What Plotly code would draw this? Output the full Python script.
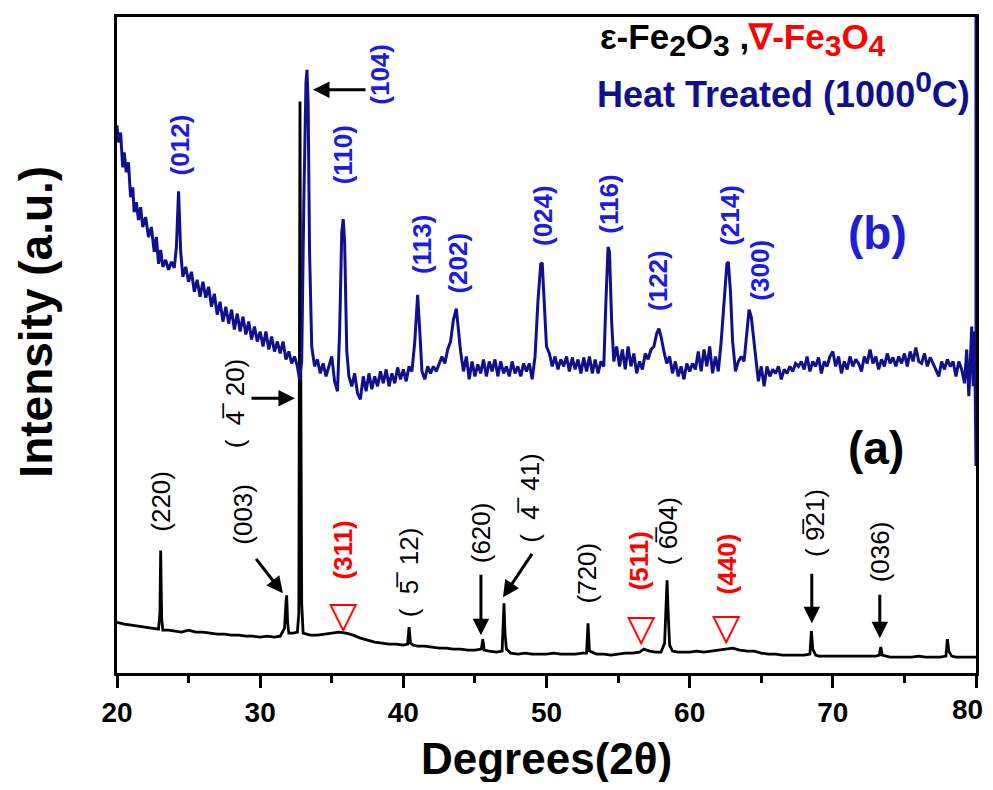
import plotly.graph_objects as go

# ---------------- data ----------------
# (a) as-prepared sample, black trace: 2theta (deg) and intensity (a.u.)
a_x = [20.0, 20.5, 21.0, 21.5, 22.0, 22.5, 22.9, 23.0, 23.05, 23.12, 23.2, 23.6, 24.0, 24.5, 25.0, 25.5,
       26.0, 26.5, 27.0, 27.5, 28.0, 28.5, 29.0, 29.5, 30.0, 30.5, 31.0, 31.4, 31.7, 31.8, 31.85, 31.92,
       32.0, 32.3, 32.6, 32.7, 32.75, 32.78, 32.83, 32.9, 33.0, 33.5, 34.0, 34.5, 35.0, 35.5, 36.0, 36.5,
       37.0, 37.5, 38.0, 38.5, 39.0, 39.5, 40.0, 40.3, 40.4, 40.5, 40.7, 41.0, 41.5, 42.0, 42.5, 43.0,
       43.5, 44.0, 44.5, 45.0, 45.45, 45.55, 45.65, 46.0, 46.5, 46.9, 46.98, 47.03, 47.1, 47.2, 47.5, 48.0,
       48.5, 49.0, 49.5, 50.0, 50.5, 51.0, 51.5, 52.0, 52.5, 52.8, 52.9, 53.0, 53.5, 54.0, 54.5, 55.0,
       55.5, 56.0, 56.5, 56.8, 57.2, 57.6, 58.0, 58.25, 58.35, 58.42, 58.5, 58.6, 58.8, 59.2, 59.6, 60.0,
       60.5, 61.0, 61.5, 62.0, 62.5, 63.0, 63.5, 64.0, 64.5, 65.0, 65.5, 66.0, 66.5, 67.0, 67.5, 68.0,
       68.4, 68.5, 68.6, 68.8, 69.0, 69.5, 70.0, 70.5, 71.0, 71.5, 72.0, 72.5, 73.0, 73.25, 73.35, 73.45,
       73.7, 74.0, 74.5, 75.0, 75.5, 76.0, 76.5, 77.0, 77.5, 77.9, 78.0, 78.1, 78.3, 78.6, 79.0, 79.5, 80.0]
a_y = [51, 49, 48, 47, 46, 45, 44, 60, 123, 55, 43, 43, 42, 41, 43, 41,
       41, 40, 39, 39, 38, 38, 37, 37, 36, 37, 36, 37, 45, 70, 78, 50,
       40, 40, 41, 60, 300, 574, 330, 70, 40, 38, 38, 39, 40, 41, 40, 38,
       35, 33, 31, 30, 29, 29, 28, 29, 46, 30, 28, 27, 27, 26, 25, 25,
       24, 24, 23, 23, 24, 34, 23, 22, 21, 22, 45, 70, 40, 24, 20, 19,
       20, 19, 19, 19, 20, 19, 19, 19, 20, 20, 50, 22, 19, 19, 18, 19,
       20, 20, 21, 24, 22, 21, 21, 30, 75, 93, 60, 28, 22, 21, 21, 21,
       22, 21, 22, 23, 24, 25, 23, 22, 22, 20, 19, 19, 18, 18, 18, 18,
       19, 42, 24, 18, 17, 17, 17, 17, 17, 17, 17, 17, 17, 18, 26, 18,
       17, 16, 16, 16, 16, 17, 16, 16, 16, 17, 34, 22, 17, 16, 16, 16, 16]

# (b) heat treated (1000 C), navy trace
b_x = [20.0, 20.1, 20.25, 20.4, 20.5, 20.65, 20.8, 20.95, 21.1, 21.2, 21.35, 21.5, 21.65, 21.8, 22.0, 22.2,
       22.4, 22.6, 22.75, 22.9, 23.05, 23.2, 23.4, 23.6, 23.8, 24.0, 24.15, 24.3, 24.45, 24.6, 24.8, 25.0,
       25.2, 25.4, 25.6, 25.8, 26.0, 26.2, 26.4, 26.6, 26.8, 27.0, 27.2, 27.4, 27.6, 27.8, 28.0, 28.2,
       28.4, 28.6, 28.8, 29.0, 29.2, 29.4, 29.6, 29.8, 30.0, 30.2, 30.4, 30.6, 30.8, 31.0, 31.2, 31.4,
       31.6, 31.8, 32.0, 32.2, 32.4, 32.6, 32.75, 32.9, 33.05, 33.2, 33.27, 33.35, 33.45, 33.6, 33.8, 34.0,
       34.2, 34.4, 34.6, 34.8, 35.0, 35.2, 35.4, 35.55, 35.7, 35.8, 35.9, 36.05, 36.2, 36.4, 36.6, 36.8,
       37.0, 37.2, 37.4, 37.6, 37.8, 38.0, 38.2, 38.4, 38.6, 38.8, 39.0, 39.2, 39.4, 39.6, 39.8, 40.0,
       40.2, 40.4, 40.6, 40.8, 41.0, 41.15, 41.3, 41.5, 41.7, 41.9, 42.1, 42.3, 42.5, 42.7, 42.9, 43.1,
       43.3, 43.5, 43.7, 43.85, 44.0, 44.2, 44.4, 44.6, 44.8, 45.0, 45.2, 45.4, 45.6, 45.8, 46.0, 46.2,
       46.4, 46.6, 46.8, 47.0, 47.2, 47.4, 47.6, 47.8, 48.0, 48.2, 48.4, 48.6, 48.8, 49.0, 49.2, 49.4,
       49.6, 49.7, 49.85, 50.0, 50.2, 50.4, 50.6, 50.8, 51.0, 51.2, 51.4, 51.6, 51.8, 52.0, 52.2, 52.4,
       52.6, 52.8, 53.0, 53.2, 53.4, 53.6, 53.8, 54.0, 54.15, 54.3, 54.4, 54.55, 54.7, 54.9, 55.1, 55.3,
       55.5, 55.7, 55.9, 56.1, 56.3, 56.5, 56.7, 56.9, 57.1, 57.3, 57.5, 57.7, 57.85, 58.0, 58.2, 58.4,
       58.6, 58.8, 59.0, 59.2, 59.4, 59.6, 59.8, 60.0, 60.2, 60.4, 60.6, 60.8, 61.0, 61.2, 61.4, 61.6,
       61.8, 62.0, 62.2, 62.4, 62.6, 62.7, 62.85, 63.0, 63.2, 63.4, 63.6, 63.8, 64.0, 64.15, 64.3, 64.45,
       64.6, 64.8, 65.0, 65.2, 65.4, 65.6, 65.8, 66.0, 66.2, 66.4, 66.6, 66.8, 67.0, 67.2, 67.4, 67.6,
       67.8, 68.0, 68.2, 68.4, 68.6, 68.8, 69.0, 69.2, 69.4, 69.6, 69.8, 70.0, 70.2, 70.4, 70.6, 70.8,
       71.0, 71.2, 71.4, 71.6, 71.8, 72.0, 72.2, 72.4, 72.6, 72.8, 73.0, 73.2, 73.4, 73.6, 73.8, 74.0,
       74.2, 74.4, 74.6, 74.8, 75.0, 75.2, 75.4, 75.6, 75.8, 76.0, 76.2, 76.4, 76.6, 76.8, 77.0, 77.2,
       77.4, 77.6, 77.8, 78.0, 78.2, 78.4, 78.6, 78.8, 79.0, 79.2, 79.35, 79.5, 79.6, 79.7, 79.8, 79.9,
       80.0, 80.0]
b_y = [550, 533, 543, 508, 523, 503, 513, 478, 488, 463, 473, 455, 468, 448, 458, 438,
       448, 423, 438, 411, 425, 408, 415, 405, 413, 407, 428, 484, 423, 398, 408, 393,
       403, 383, 395, 378, 393, 377, 388, 368, 381, 360, 373, 353, 368, 351, 365, 345,
       361, 343, 358, 340, 353, 335, 348, 333, 343, 328, 343, 325, 338, 323, 333, 321,
       333, 315, 323, 311, 318, 308, 295, 313, 473, 593, 606, 573, 423, 328, 308, 315,
       301, 311, 298, 308, 318, 293, 283, 343, 443, 456, 433, 323, 298, 288, 301, 281,
       275, 298, 283, 301, 285, 298, 288, 303, 291, 305, 288, 301, 291, 307, 295, 305,
       293, 308, 303, 333, 380, 343, 303, 295, 308, 301, 308, 303, 311, 318, 311, 325,
       333, 355, 366, 343, 323, 303, 318, 295, 313, 298, 310, 301, 315, 298, 313, 303,
       315, 298, 313, 301, 308, 298, 313, 301, 308, 298, 311, 303, 311, 295, 318, 373,
       411, 412, 373, 328, 321, 308, 318, 305, 315, 308, 318, 303, 317, 305, 315, 301,
       317, 303, 318, 301, 315, 301, 313, 308, 373, 428, 423, 353, 313, 328, 308, 325,
       305, 328, 308, 321, 301, 313, 305, 321, 315, 325, 328, 341, 346, 338, 323, 311,
       318, 301, 313, 298, 308, 295, 311, 303, 311, 305, 323, 303, 325, 308, 328, 301,
       318, 303, 333, 373, 411, 413, 383, 333, 303, 313, 318, 313, 343, 365, 358, 338,
       313, 293, 308, 288, 308, 298, 305, 301, 308, 295, 305, 301, 308, 303, 311, 308,
       313, 305, 318, 303, 313, 308, 317, 301, 313, 308, 318, 323, 308, 318, 301, 313,
       305, 318, 308, 315, 311, 303, 318, 311, 325, 311, 318, 305, 315, 308, 321, 311,
       317, 308, 318, 311, 321, 308, 323, 313, 327, 313, 311, 321, 308, 317, 311, 305,
       298, 313, 305, 315, 308, 313, 298, 313, 305, 291, 325, 278, 313, 348, 288, 343,
       208, 700]

x_ticks = [20, 30, 40, 50, 60, 70, 80]

# peak labels: (text, 2theta, height)
blue_labels = [("(012)", 24.4, 531), ("(104)", 38.37, 601), ("(110)", 35.78, 521),
               ("(113)", 41.3, 431), ("(202)", 43.8, 412), ("(024)", 49.75, 460),
               ("(116)", 54.4, 471), ("(122)", 57.8, 394), ("(214)", 62.8, 460),
               ("(300)", 64.9, 405)]
OV = "\u0305"
black_labels = [("(220)", 23.07, 173), ("(003)", 28.8, 160), ("(  4" + OV + "  20)", 28.25, 271),
                ("(  5" + OV + "  12)", 40.45, 101), ("(620)", 45.4, 141), ("(  4" + OV + "  41)", 48.85, 176),
                ("(720)", 52.83, 100), ("( 6" + OV + "04)", 58.45, 143), ("( 9" + OV + "21)", 68.7, 151),
                ("(036)", 73.28, 122)]
red_labels = [("(311)", 35.78, 124), ("(511)", 56.45, 113), ("(440)", 62.6, 110)]
red_marks = [(35.8, 58), (56.65, 45), (62.6, 46)]
# arrows: head (2theta, height), tail offset in px
arrows = [(33.69, 586, 54, 0), (32.43, 276, -45, 0), (31.59, 80, -28, -36), (45.42, 38, 0, -62),
          (46.96, 76, 30, -45), (68.53, 50, 0, -51), (73.28, 35, 0, -45)]

NAVY = "#10108c"
BLUE = "#1c1ce0"
FONT = "Liberation Sans, Arial, sans-serif"

fig = go.Figure()
fig.add_trace(go.Scatter(x=a_x, y=a_y, mode="lines", line=dict(color="black", width=2.8), showlegend=False))
fig.add_trace(go.Scatter(x=b_x, y=b_y, mode="lines", line=dict(color=NAVY, width=3), showlegend=False))

ann = []
for t, x, y in blue_labels:
    ann.append(dict(x=x, y=y, text="<b>" + t + "</b>", textangle=-90, showarrow=False,
                    font=dict(family=FONT, size=26, color=BLUE)))
for t, x, y in black_labels:
    ann.append(dict(x=x, y=y, text=t, textangle=-90, showarrow=False,
                    font=dict(family=FONT, size=26, color="black")))
for t, x, y in red_labels:
    ann.append(dict(x=x, y=y, text="<b>" + t + "</b>", textangle=-90, showarrow=False,
                    font=dict(family=FONT, size=26, color="red")))
for x, y in red_marks:
    ann.append(dict(x=x, y=y, text="▽", showarrow=False,
                    font=dict(family="DejaVu Sans", size=37, color="red")))
for x, y, ax, ay in arrows:
    ann.append(dict(x=x, y=y, text="", showarrow=True, arrowhead=2, arrowsize=1.1, arrowwidth=3,
                    arrowcolor="black", ax=ax, ay=ay, standoff=0))

ann.append(dict(x=73.1, y=442, text="<b>(b)</b>", showarrow=False,
                font=dict(family=FONT, size=46, color="#1e1ed2")))
ann.append(dict(x=73.0, y=226, text="<b>(a)</b>", showarrow=False,
                font=dict(family=FONT, size=46, color="black")))
SUB = "<sub><span style='font-size:30px'>%s</span></sub>"
ann.append(dict(xref="paper", yref="paper", x=0.560, y=0.966, xanchor="left", yanchor="middle",
                text="<b>ε-Fe" + SUB % "2" + "O" + SUB % "3" + " ,<span style='color:red'>∇-Fe"
                     + SUB % "3" + "O" + SUB % "4" + "</span></b>",
                showarrow=False, font=dict(family=FONT, size=35, color="black")))
ann.append(dict(xref="paper", yref="paper", x=0.995, y=0.888, xanchor="right", yanchor="middle",
                text="<b>Heat Treated (1000<sup><span style='font-size:30px'>0</span></sup>C)</b>",
                showarrow=False, font=dict(family=FONT, size=36, color=NAVY)))
ann.append(dict(xref="paper", yref="paper", x=-0.094, y=0.536, xanchor="center", yanchor="middle",
                text="<b>Intensity (a.u.)</b>", textangle=-90, showarrow=False,
                font=dict(family=FONT, size=46, color="black")))
ann.append(dict(xref="paper", yref="paper", x=0.5, y=-0.13, xanchor="center", yanchor="middle",
                text="<b>Degrees(2θ)</b>", showarrow=False,
                font=dict(family=FONT, size=44, color="black")))

# the last tick label would run past the page edge, so it is drawn right-aligned instead
tick_text = [str(v) for v in x_ticks]
last_label = tick_text[-1]
tick_text[-1] = ""
ann.append(dict(x=x_ticks[-1], xref="x", yref="paper", y=-0.055, xanchor="right", yanchor="middle",
                xshift=9, text="<b>" + last_label + "</b>", showarrow=False,
                font=dict(family=FONT, size=28, color="black")))

# the page body has an 8px margin on every side; the figure is shrunk by that much so the
# whole page is exactly 993x790 and the plot area sits where the reference puts it
fig.update_layout(
    width=977, height=774,
    margin=dict(l=109, r=9, t=6, b=109),
    paper_bgcolor="white", plot_bgcolor="white",
    annotations=ann,
    xaxis=dict(range=[20, 80], tickvals=x_ticks, ticktext=tick_text,
               ticks="outside", ticklen=12, tickwidth=2.5, tickcolor="black",
               minor=dict(dtick=5, tick0=20, ticks="outside", ticklen=7, tickwidth=2.5, tickcolor="black"),
               showline=True, linewidth=3, linecolor="black", mirror=True,
               showgrid=False, zeroline=False,
               tickfont=dict(family=FONT, size=28, color="black", weight="bold")),
    yaxis=dict(range=[0, 659], showticklabels=False, ticks="", showline=True, linewidth=3,
               linecolor="black", mirror=True, showgrid=False, zeroline=False),
)

fig.write_html("out.html")
